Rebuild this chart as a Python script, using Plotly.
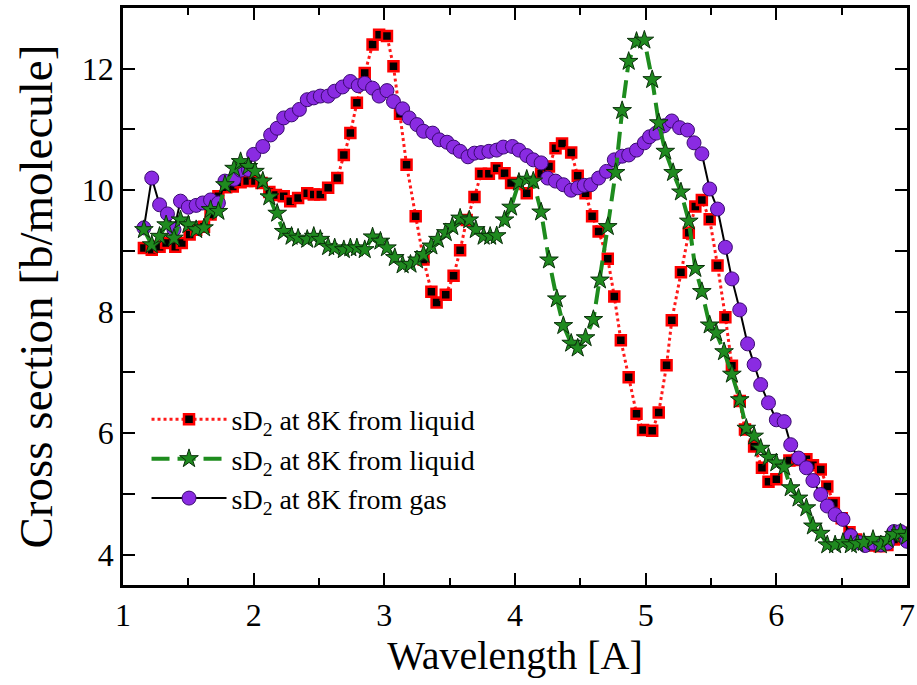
import plotly.graph_objects as go

# Wavelength [A] / cross section [b/molecule]
red_x = [1.16,1.22,1.28,1.33,1.40,1.45,1.51,1.56,1.62,1.67,1.73,1.79,1.84,1.90,1.95,2.01,2.06,2.12,2.17,2.23,
         2.28,2.34,2.41,2.46,2.51,2.57,2.64,2.69,2.74,2.79,2.85,2.91,2.96,3.02,3.07,3.12,3.17,3.24,3.30,3.36,
         3.40,3.47,3.53,3.58,3.63,3.69,3.74,3.80,3.86,3.92,3.97,4.09,4.20,4.26,4.31,4.36,4.43,4.48,4.54,4.59,
         4.64,4.71,4.76,4.81,4.87,4.93,4.98,5.05,5.10,5.16,5.20,5.27,5.33,5.38,5.43,5.49,5.55,5.61,5.66,5.72,
         5.76,5.83,5.89,5.94,6.00,6.10,6.16,6.23,6.28,6.34,6.39,6.44,6.50,6.56,6.61,6.67,6.73,6.79,6.85,6.90,6.95]
red_y = [9.05,9.02,9.07,9.13,9.07,9.13,9.27,9.35,9.40,9.60,9.90,10.05,10.06,10.13,10.15,10.15,10.12,9.97,9.92,9.90,
         9.82,9.87,9.95,9.93,9.93,10.04,10.20,10.58,10.94,11.44,11.93,12.40,12.56,12.54,12.04,11.26,10.42,9.57,8.86,8.33,
         8.15,8.28,8.59,9.01,9.51,9.89,10.27,10.27,10.36,10.28,10.12,9.95,10.27,10.39,10.69,10.77,10.62,10.24,9.95,9.57,
         9.32,8.87,8.25,7.53,6.92,6.32,6.05,6.04,6.34,7.12,7.86,8.65,9.30,9.73,9.84,9.52,8.76,7.91,7.11,6.53,
         6.06,5.78,5.43,5.20,5.24,5.55,5.56,5.57,5.47,5.40,5.12,4.85,4.60,4.37,4.25,4.19,4.15,4.14,4.16,4.25,4.36]

green_x = [1.16,1.22,1.28,1.33,1.39,1.44,1.50,1.56,1.62,1.67,1.73,1.78,1.85,1.90,1.96,2.01,2.07,2.12,2.18,2.23,
           2.29,2.34,2.41,2.46,2.51,2.57,2.62,2.69,2.74,2.79,2.85,2.91,2.97,3.02,3.08,3.14,3.20,3.25,3.30,3.36,
           3.41,3.47,3.52,3.58,3.65,3.70,3.76,3.81,3.86,3.92,3.97,4.03,4.09,4.14,4.20,4.26,4.32,4.37,4.43,4.48,
           4.54,4.60,4.65,4.71,4.77,4.82,4.87,4.93,4.99,5.05,5.10,5.15,5.21,5.27,5.33,5.38,5.43,5.49,5.54,5.60,
           5.66,5.72,5.77,5.83,5.88,5.94,6.00,6.06,6.11,6.17,6.23,6.28,6.34,6.39,6.45,6.51,6.57,6.62,6.67,6.74,
           6.80,6.85,6.90,6.95,7.00]
green_y = [9.35,9.10,9.24,9.43,9.21,9.51,9.43,9.35,9.38,9.68,9.65,10.09,10.36,10.47,10.39,10.31,10.15,9.89,9.62,9.32,
           9.24,9.21,9.19,9.24,9.19,9.07,9.05,9.02,9.05,9.05,9.02,9.23,9.16,9.05,8.89,8.77,8.78,8.85,8.94,9.08,
           9.19,9.30,9.40,9.54,9.51,9.35,9.24,9.24,9.25,9.51,9.72,10.13,10.18,10.15,9.64,8.85,8.21,7.77,7.48,7.40,
           7.57,7.87,8.52,9.40,10.29,11.31,12.12,12.45,12.47,11.82,11.11,10.64,10.29,9.97,9.49,8.71,8.33,7.78,7.65,7.34,
           6.97,6.55,6.08,5.95,5.75,5.60,5.51,5.44,5.10,4.93,4.77,4.47,4.35,4.16,4.16,4.20,4.16,4.18,4.20,4.25,
           4.16,4.25,4.33,4.36,4.30]

purple_x = [1.16,1.22,1.28,1.34,1.39,1.44,1.50,1.56,1.61,1.67,1.73,1.78,1.85,1.90,1.96,2.00,2.07,2.13,2.18,2.23,
            2.29,2.35,2.41,2.46,2.51,2.57,2.62,2.68,2.74,2.80,2.85,2.91,2.96,3.02,3.07,3.14,3.19,3.25,3.30,3.37,
            3.42,3.48,3.53,3.58,3.64,3.69,3.74,3.80,3.86,3.91,3.98,4.03,4.09,4.14,4.20,4.25,4.31,4.37,4.43,4.48,
            4.53,4.58,4.64,4.70,4.76,4.82,4.87,4.93,4.99,5.03,5.08,5.14,5.20,5.26,5.32,5.37,5.43,5.49,5.55,5.61,
            5.66,5.72,5.78,5.83,5.88,5.94,6.00,6.06,6.11,6.17,6.23,6.28,6.34,6.39,6.45,6.51,6.57,6.63,6.68,6.74,
            6.80,6.85,6.90,6.95,7.00]
purple_y = [9.38,10.20,9.76,9.61,9.35,9.82,9.72,9.75,9.79,9.84,9.79,10.15,10.18,10.33,10.34,10.59,10.72,10.91,11.02,11.19,
            11.24,11.33,11.49,11.52,11.55,11.55,11.63,11.70,11.79,11.72,11.76,11.68,11.55,11.64,11.46,11.34,11.19,11.08,10.97,10.94,
            10.83,10.79,10.71,10.64,10.55,10.61,10.62,10.64,10.66,10.71,10.72,10.66,10.57,10.50,10.45,10.20,10.15,10.09,10.00,10.04,
            10.08,10.09,10.20,10.31,10.50,10.56,10.58,10.66,10.78,10.88,10.94,11.06,11.14,11.03,10.99,10.78,10.60,10.02,9.69,9.06,
            8.54,8.03,7.47,7.13,6.80,6.50,6.22,6.19,5.81,5.59,5.43,5.22,4.99,4.80,4.66,4.58,4.31,4.20,4.15,4.19,
            4.16,4.19,4.38,4.38,4.22]

legend_names = ["sD<sub>2</sub> at 8K from liquid",
                "sD<sub>2</sub> at 8K from liquid",
                "sD<sub>2</sub> at 8K from gas"]
x_title = "Wavelength [A]"
y_title = "Cross section [b/molecule]"

FONT = "Liberation Serif"

fig = go.Figure()
fig.add_trace(go.Scatter(
    x=red_x, y=red_y, mode="lines+markers", name=legend_names[0], legendrank=1,
    line=dict(color="#ff1a1a", width=3, dash="dot"),
    marker=dict(symbol="square", size=10, color="black", line=dict(color="#ff0000", width=2.5)),
))
fig.add_trace(go.Scatter(
    x=purple_x, y=purple_y, mode="lines+markers", name=legend_names[2], legendrank=3,
    line=dict(color="black", width=2),
    marker=dict(symbol="circle", size=14, color="#8a2be2", line=dict(color="#3a0a70", width=1)),
))
fig.add_trace(go.Scatter(
    x=green_x, y=green_y, mode="lines+markers", name=legend_names[1], legendrank=2,
    line=dict(color="#1e8c1e", width=4, dash="18px,8px"),
    marker=dict(symbol="star", size=14, color="#1f8a1f", line=dict(color="#0a300a", width=1)),
))

axis_common = dict(
    showline=True, linecolor="black", linewidth=2.5, mirror="ticks",
    ticks="inside", tickwidth=2, tickcolor="black",
    showgrid=False, zeroline=False, automargin=False,
    tickfont=dict(family=FONT, size=32, color="black"),
)

fig.update_layout(
    width=917, height=685,
    margin=dict(l=123, r=10, t=8, b=100),
    plot_bgcolor="white", paper_bgcolor="white",
    font=dict(family=FONT, color="black"),
    xaxis=dict(range=[1, 7], tick0=1, dtick=1, ticklen=12,
               minor=dict(dtick=0.5, ticks="inside", ticklen=7, tickwidth=2, tickcolor="black"),
               title=dict(text=x_title, font=dict(family=FONT, size=40), standoff=8),
               **axis_common),
    yaxis=dict(range=[3.5, 13], tick0=4, dtick=2, ticklen=12,
               minor=dict(dtick=1, ticks="inside", ticklen=12, tickwidth=2, tickcolor="black"),
               **axis_common),
    legend=dict(x=0.03, y=0.33, xanchor="left", yanchor="top",
                bgcolor="rgba(0,0,0,0)", font=dict(family=FONT, size=28, color="black"),
                traceorder="normal", itemwidth=75, tracegroupgap=0),
    showlegend=True,
)
fig.add_annotation(text=y_title, xref="paper", yref="paper", x=-0.111, y=0.5,
                   xanchor="center", yanchor="middle", textangle=-90, showarrow=False,
                   font=dict(family=FONT, size=47, color="black"))

fig.write_html("out.html")
